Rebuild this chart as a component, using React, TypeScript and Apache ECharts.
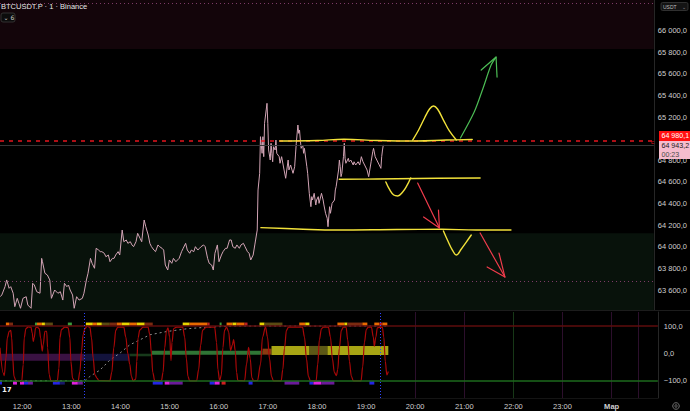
import React, { useEffect, useRef } from "react";
import * as echarts from "echarts";

// time axis: minutes relative to 12:00
const TIME_MIN = -27.2;
const TIME_MAX = 776.5;
const PRICE_MIN = 63415;
const PRICE_MAX = 66284;
const OSC_MIN = -164.3;
const OSC_MAX = 151.8;

const priceTicks = [63600, 63800, 64000, 64200, 64400, 64600, 64800, 65200, 65400, 65600, 65800, 66000];
const timeTicks = [0, 60, 120, 180, 240, 300, 360, 420, 480, 540, 600, 660, 720];
const oscTicks = [-100, 0, 100];

const lastPrice = 64943.2;
const alertPrice = 64980.1;
const dottedLevels = [66253, 63683];
const redZone = [65830, PRICE_MAX];
const greenZone = [PRICE_MIN, 64125];

const pricePath: [number, number][] = [
  [-27, 63538], [-25, 63554], [-21, 63631], [-19, 63693], [-16, 63616], [-14, 63631], [-11, 63570], [-9, 63446],
  [-6, 63523], [-4, 63477], [-2, 63431], [1, 63523], [5, 63538], [7, 63461], [11, 63431], [13, 63662],
  [15, 63646], [18, 63584], [22, 63570], [24, 63893], [25, 63862], [28, 63755], [31, 63739], [34, 63693],
  [36, 63523], [40, 63600], [44, 63570], [47, 63584], [50, 63507], [52, 63662], [55, 63631], [57, 63646],
  [59, 63600], [62, 63554], [64, 63431], [67, 63538], [70, 63507], [74, 63523], [76, 63570], [79, 63693],
  [81, 63755], [84, 63893], [86, 63847], [89, 63801], [91, 63986], [94, 63970], [96, 63955], [98, 63955],
  [101, 63940], [103, 63908], [106, 63924], [108, 63862], [111, 63893], [113, 63893], [115, 63924], [118, 63955],
  [120, 63924], [123, 64155], [125, 64047], [128, 64063], [130, 64032], [133, 64047], [135, 64017], [137, 64001],
  [140, 64047], [142, 64125], [145, 64078], [147, 64047], [150, 64248], [152, 64186], [155, 64109], [157, 64032],
  [159, 64001], [162, 63970], [164, 63955], [167, 64017], [169, 64001], [172, 63986], [174, 63970], [176, 63831],
  [179, 63785], [181, 63878], [184, 63847], [186, 63893], [189, 63862], [191, 63878], [193, 63893], [196, 63955],
  [198, 63986], [201, 64032], [203, 63970], [206, 63940], [208, 63970], [211, 63955], [213, 64001], [216, 63970],
  [218, 63986], [220, 64001], [223, 64017], [225, 64001], [228, 63893], [230, 63847], [233, 63831], [235, 63785],
  [237, 63940], [240, 64017], [242, 63862], [245, 63924], [247, 63955], [250, 63986], [252, 63986], [255, 64063],
  [257, 64063], [259, 64001], [262, 63986], [264, 64017], [267, 63986], [269, 64017], [272, 64032], [274, 64001],
  [277, 63955], [279, 63940], [281, 63878], [284, 63924], [286, 64017], [289, 64155], [290, 64526], [292, 64680],
  [293, 65019], [295, 64865], [296, 65019], [297, 64834], [298, 65143], [300, 65266], [301, 65328], [302, 65143],
  [303, 64896], [305, 64803], [306, 64958], [307, 64865], [308, 64787], [309, 64926], [311, 64896], [312, 64988],
  [313, 64865], [316, 64834], [317, 64773], [319, 64834], [322, 64711], [324, 64634], [327, 64803], [328, 64711],
  [330, 64757], [333, 64680], [335, 64741], [336, 64850], [337, 64958], [339, 65127], [340, 65050], [341, 65081],
  [342, 64988], [343, 64911], [345, 64942], [346, 64865], [347, 64911], [350, 64741], [351, 64680], [353, 64495],
  [355, 64371], [356, 64464], [357, 64433], [359, 64495], [361, 64387], [362, 64433], [364, 64464], [365, 64402],
  [368, 64495], [370, 64433], [371, 64387], [373, 64310], [375, 64264], [376, 64186], [378, 64371], [379, 64310],
  [381, 64402], [384, 64433], [385, 64526], [386, 64556], [389, 64711], [390, 64803], [391, 64741], [392, 64649],
  [393, 64680], [395, 64834], [396, 64958], [397, 64819], [398, 64773], [401, 64819], [402, 64787], [404, 64803],
  [407, 64757], [408, 64787], [410, 64757], [413, 64787], [415, 64757], [417, 64834], [419, 64787], [421, 64757],
  [424, 64711], [426, 64649], [429, 64787], [431, 64880], [432, 64911], [434, 64834], [436, 64803], [439, 64757],
  [441, 64726], [442, 64834], [443, 64896], [444, 64943],
];

// hand-drawn annotations (time, price)
const topLevelLine: [number, number][] = [[316.7, 64979], [363, 64984], [395.7, 64995], [436, 64984], [484.9, 64979], [521.5, 64988], [553.3, 64993]];
const topHump: [number, number][] = [[480.1, 64988], [487.4, 65081], [494.7, 65192], [500.8, 65275], [505.7, 65303], [510.6, 65275], [517.9, 65173], [525.2, 65072], [533.8, 64988]];
const midLevelLine: [number, number][] = [[389.9, 64625], [436, 64627], [484.9, 64632], [563, 64637]];
const midDip: [number, number][] = [[447.1, 64600], [452, 64526], [456.8, 64479], [461.7, 64470], [467.8, 64507], [472.8, 64563], [477.6, 64637]];
const lowLevelLine: [number, number][] = [[293.5, 64177], [338.4, 64165], [387.2, 64155], [460.4, 64160], [515.5, 64162], [558.2, 64155], [600.9, 64155]];
const lowDip: [number, number][] = [[517.9, 64146], [522.8, 64063], [528.9, 63970], [533.8, 63924], [539.9, 63980], [546, 64044], [552.1, 64109]];
const greenArrow: [number, number][] = [[538.8, 65007], [555.7, 65247], [566.7, 65470], [576.5, 65682], [582.6, 65756]];
const greenArrowHead: [number, number][] = [[564.3, 65636], [582.6, 65756], [583.8, 65571]];
const redArrow1: [number, number][] = [[486.2, 64590], [513, 64174]];
const redArrow1Head: [number, number][] = [[511.8, 64340], [513, 64174], [493.5, 64276]];
const redArrow2: [number, number][] = [[563, 64128], [593.5, 63720]];
const redArrow2Head: [number, number][] = [[586.2, 63942], [593.5, 63720], [571.6, 63813]];

// oscillator (time, value)
const oscillator: [number, number][] = [
  [-27.2, 20], [-23.2, -73], [-22, -82], [-19.9, -17], [-18.3, 57], [-15.9, 81], [-14.1, 84], [-12.9, 57],
  [-11.7, -17], [-10.1, -85], [-7.7, -101], [-0.7, -104], [1.2, -42], [2.4, 57], [4.5, 91], [7.3, 97],
  [10.6, 96], [12.2, 75], [13.4, 44], [14.6, 57], [16.3, 94], [18.3, 96], [20.7, 91], [22.4, 57],
  [24.4, 8], [25.6, 32], [27.7, 81], [29.8, 81], [31, 20], [32.9, -79], [35, -101], [42.7, -104],
  [44.8, -55], [46, 57], [48, 88], [52.1, 96], [56.1, 94], [58.2, 57], [59.4, -30], [61.5, -92],
  [64.3, -104], [68.3, -101], [70.4, -67], [72.4, 8], [74.4, 69], [76.5, 91], [79.3, 100], [82.6, 96],
  [84.6, 57], [86.6, -17], [88.7, -79], [91.5, -92], [93.5, -100], [107, -101], [109.4, -70], [111.8, 20],
  [114.3, 85], [116.7, 96], [124, 96], [126.5, 60], [128.9, 0], [131.3, -40], [133.4, -85], [135.4, -101],
  [138.7, -95], [139.9, -30], [141.5, 57], [143.5, 85], [147.6, 96], [153.7, 96], [155.7, 70], [157.8, 0],
  [159.4, -70], [161.8, -100], [170, -101], [172, -70], [174, 20], [176.1, 80], [178, 94], [180.1, 60],
  [181.7, -27], [182.9, 40], [185, 91], [188.7, 96], [196, 96], [198.4, 60], [200.5, -20], [202.4, -85],
  [204.5, -101], [213, -101], [215.5, -60], [217.9, 30], [220.4, 85], [224.9, 96], [231.3, 96], [235, 96],
  [237.4, 40], [239, -60], [241.1, -100], [243.2, -80], [245.1, 20], [247.2, 85], [249.6, 96], [252.1, 80],
  [254.5, 10], [256.6, 30], [258.2, 50], [260.2, 10], [261.8, -70], [263.4, -100], [271.6, -101], [274, -40],
  [276.5, 22], [278.5, -20], [280.5, -90], [282.6, -101], [287.4, -100], [291.1, -40], [293.5, 60], [297.2, 96],
  [299.6, 60], [302.1, -20], [304.5, -85], [306.9, -101], [316.3, -101], [318.3, -60], [320.4, 20], [322.8, 85],
  [325.3, 96], [342.3, 96], [344.8, 60], [347.2, -20], [349.6, -85], [352.1, -101], [359, -101], [361, -40],
  [363, 50], [365.5, 90], [367.9, 96], [374, 96], [376.5, 60], [378.9, -20], [381.3, -70], [383.8, -82],
  [385.4, -60], [387.4, 20], [389.9, 85], [392.3, 96], [395.6, 96], [397.6, 50], [399.7, -30], [402.1, -85],
  [404.5, -101], [413.9, -101], [415.9, -50], [418, 40], [420.4, 88], [422.8, 96], [426.5, 96], [428.9, 60],
  [430.1, 26], [432, 60], [433.8, 94], [439.9, 96], [441.7, 60], [443.5, -30], [445.4, -79], [447.2, -67],
];

const trendLine: [number, number][] = [
  [-27.2, -101], [76.5, -101], [82.6, -85], [94.8, -62], [107, -25], [119.1, 0], [131.3, 31], [143.5, 49],
  [155.7, 68], [176.5, 80], [200.8, 90], [225.2, 96], [256.9, 100], [446, 100],
];

// [start, end, low, high, kind]
const zeroBand: [number, number, number, number, string][] = [
  [-27.2, 75.4, -27, -1.5, "purple"], [75.4, 131.3, -27, -1.5, "navy"], [131.3, 158.2, -11, -1.5, "darkgreen"],
  [158.2, 293.5, -5, 9.6, "green"], [293.5, 304.5, -5, 17, "brown"], [304.5, 351, -6, 27, "yellow"],
  [351, 372.8, -6, 27, "olive"], [372.8, 447.2, -6, 27, "yellow"],
];
const topBlocks: [number, number, string][] = [
  [-20, -16.2, "orange"], [-16.2, -11.3, "brown"], [15.5, 18, "green"], [18, 24, "orange"], [24, 27.7, "yellow"],
  [27.7, 37.4, "olive"], [55.7, 60.6, "green"], [77.7, 86.2, "yellow"], [86.2, 91.1, "orange"], [91.1, 97.2, "yellow"],
  [97.2, 107, "olive"], [107, 115.5, "brown"], [115.5, 121.6, "orange"], [121.6, 131.3, "yellow"], [131.3, 139.9, "orange"],
  [139.9, 149.6, "yellow"], [149.6, 159.4, "brown"], [196, 204.5, "yellow"], [204.5, 226.4, "orange"], [226.4, 228.9, "red"],
  [241.1, 243.5, "green"], [249.6, 256.9, "orange"], [256.9, 261.8, "yellow"], [261.8, 271.6, "orange"], [271.6, 275.2, "red"],
  [289.9, 296, "yellow"], [296, 317.9, "olive"], [338.4, 345.7, "orange"], [345.7, 350.8, "yellow"], [385, 393.5, "orange"],
  [393.5, 397.2, "yellow"], [397.2, 415.5, "brown"], [415.5, 421.6, "orange"], [430.1, 436.2, "orange"], [436.2, 439.9, "red"],
  [439.9, 446, "orange"],
];
const bottomBlocks: [number, number, string][] = [
  [-27.2, -24.8, "blue"], [-11.3, -6.5, "magenta"], [-2.8, 2.1, "magenta"], [2.1, 7, "blue"], [7, 13, "purple"],
  [37.4, 46, "blue"], [46, 52, "navy"], [60.6, 67.9, "magenta"], [67.9, 74, "purple"], [159.4, 171.6, "blue"],
  [174, 180.1, "magenta"], [180.1, 196, "purple"], [228.9, 235, "blue"], [235, 241.1, "magenta"], [243.5, 248.4, "red"],
  [276.5, 281.4, "blue"], [320.4, 338.4, "purple"], [350.8, 355.7, "blue"], [355.7, 365.5, "magenta"], [365.5, 381.3, "purple"],
  [424.1, 430.1, "blue"],
];
const sessionLines = [480, 540, 660, 720, 753];
const dayLine = 600;
const cursorLines = [75.4, 437.4];

const bandColors: Record<string, string> = {
  purple: "#3a1242", navy: "#13133c", darkgreen: "#173a1b", green: "#2f7535", brown: "#8a3a10",
  yellow: "#a8a514", olive: "#5c5816",
};
const topColors: Record<string, string> = {
  orange: "#e86a00", brown: "#7a2a10", green: "#3c9c3c", yellow: "#e6d400", olive: "#5a4a12", red: "#c02020",
};
const bottomColors: Record<string, string> = {
  blue: "#2424e6", magenta: "#e020e0", purple: "#6a1a9a", navy: "#18186a", red: "#d02020",
};

const fmtPrice = (v: number) => {
  const [i, d] = v.toFixed(1).split(".");
  const neg = i.startsWith("-");
  const body = (neg ? i.slice(1) : i).replace(/\B(?=(\d{3})+(?!\d))/g, " ");
  return (neg ? "\u2212" : "") + body + "," + d;
};

const FONT = "Liberation Sans";
const LABEL = "#cfcfcf";

function stroke(data: [number, number][], color: string, width: number, smooth: boolean | number = 0.4) {
  return {
    type: "line", xAxisIndex: 0, yAxisIndex: 0, data, smooth, showSymbol: false, symbol: "none", z: 6,
    lineStyle: { color, width, cap: "round", join: "round" }, silent: true,
  };
}

export default function App() {
  const ref = useRef<HTMLDivElement>(null);
  useEffect(() => {
    if (!ref.current) return;
    const chart = echarts.init(ref.current, null, { renderer: "svg" });
    const option: any = {
      animation: false,
      backgroundColor: "#000000",
      textStyle: { fontFamily: FONT },
      grid: [
        { left: 0, top: 0, width: 659, height: 310 },
        { left: 0, top: 312, width: 659, height: 86 },
      ],
      xAxis: [
        { type: "value", gridIndex: 0, min: TIME_MIN, max: TIME_MAX, show: false, axisLine: { onZero: false }, splitLine: { show: false } },
        {
          type: "value", gridIndex: 1, min: TIME_MIN, max: TIME_MAX,
          axisLine: { show: true, onZero: false, lineStyle: { color: "#141414" } }, axisTick: { show: false }, splitLine: { show: false },
          axisLabel: {
            customValues: timeTicks, color: LABEL, fontSize: 7.5, fontFamily: FONT, margin: 4,
            formatter: (v: number) => (v === 720 ? "{b|Мар}" : `${String(12 + Math.round(v / 60)).padStart(2, "0")}:00`),
            rich: { b: { fontWeight: "bold", fontSize: 7.5, color: LABEL, fontFamily: FONT } },
          },
        },
      ],
      yAxis: [
        {
          type: "value", gridIndex: 0, position: "right", min: PRICE_MIN, max: PRICE_MAX,
          axisLine: { show: true, onZero: false, lineStyle: { color: "#262626" } }, axisTick: { show: false }, splitLine: { show: false },
          axisLabel: { customValues: priceTicks, color: LABEL, fontSize: 7.5, fontFamily: FONT, margin: 4, formatter: fmtPrice },
        },
        {
          type: "value", gridIndex: 1, position: "right", min: OSC_MIN, max: OSC_MAX,
          axisLine: { show: true, onZero: false, lineStyle: { color: "#262626" } }, axisTick: { show: false }, splitLine: { show: false },
          axisLabel: { customValues: oscTicks, color: LABEL, fontSize: 7.5, fontFamily: FONT, margin: 6, formatter: fmtPrice },
        },
      ],
      series: [
        {
          type: "line", xAxisIndex: 0, yAxisIndex: 0, data: [[TIME_MIN, PRICE_MIN]], showSymbol: false, z: 1, silent: true,
          lineStyle: { width: 0 },
          markArea: {
            silent: true, label: { show: false },
            data: [
              [{ yAxis: redZone[0], itemStyle: { color: "#13050a" } }, { yAxis: redZone[1] }],
              [{ yAxis: greenZone[0], itemStyle: { color: "#08120b" } }, { yAxis: greenZone[1] }],
            ],
          },
          markLine: {
            silent: true, symbol: ["none", "none"], label: { show: false },
            data: [
              { yAxis: lastPrice, lineStyle: { color: "#363636", width: 1, type: "solid" } },
              ...dottedLevels.map((v) => ({ yAxis: v, lineStyle: { color: "#7d3b66", width: 1, type: [1, 3] } })),
            ],
          },
        },
        {
          type: "line", xAxisIndex: 0, yAxisIndex: 0, data: pricePath, showSymbol: false, symbol: "none", z: 3, silent: true,
          lineStyle: { color: "#d2a4b5", width: 1 },
          markLine: {
            silent: true, symbol: ["none", "none"], label: { show: false },
            data: [{ yAxis: alertPrice, lineStyle: { color: "#e3141e", width: 1.5, type: [4, 5] } }],
          },
        },
        stroke(topLevelLine, "#f2e23a", 1.4),
        stroke(topHump, "#f2e23a", 1.4),
        stroke(midLevelLine, "#f2e23a", 1.4),
        stroke(midDip, "#f2e23a", 1.4),
        stroke(lowLevelLine, "#f2e23a", 1.4),
        stroke(lowDip, "#f2e23a", 1.4),
        stroke(greenArrow, "#4cbd55", 1.2, 0.3),
        stroke(greenArrowHead, "#4cbd55", 1.2, false),
        stroke(redArrow1, "#f03c4c", 1.2, false),
        stroke(redArrow1Head, "#f03c4c", 1.2, false),
        stroke(redArrow2, "#f03c4c", 1.2, false),
        stroke(redArrow2Head, "#f03c4c", 1.2, false),
        {
          type: "line", xAxisIndex: 1, yAxisIndex: 1, data: [[TIME_MIN, OSC_MIN]], showSymbol: false, z: 1, silent: true,
          lineStyle: { width: 0 },
          markArea: {
            silent: true, label: { show: false },
            data: [
              ...zeroBand.map(([s, e, lo, hi, k]) => [{ xAxis: s, yAxis: lo, itemStyle: { color: bandColors[k] } }, { xAxis: e, yAxis: hi }]),
              ...topBlocks.map(([s, e, k]) => [{ xAxis: s, yAxis: 101, itemStyle: { color: topColors[k] } }, { xAxis: e, yAxis: 113 }]),
              ...bottomBlocks.map(([s, e, k]) => [{ xAxis: s, yAxis: -101, itemStyle: { color: bottomColors[k] } }, { xAxis: e, yAxis: -115 }]),
            ],
          },
          markLine: {
            silent: true, symbol: ["none", "none"], label: { show: false },
            data: [
              ...sessionLines.map((v) => ({ xAxis: v, lineStyle: { color: "#2c0f2c", width: 1, type: "solid" } })),
              { xAxis: dayLine, lineStyle: { color: "#173817", width: 1, type: "solid" } },
              { yAxis: 100, lineStyle: { color: "#5e0c0c", width: 1.5, type: "solid" } },
              { yAxis: -100, lineStyle: { color: "#1d6a1d", width: 1.5, type: "solid" } },
              ...cursorLines.map((v) => ({ xAxis: v, lineStyle: { color: "#2f45ff", width: 1, type: [1, 2] } })),
            ],
          },
        },
        {
          type: "line", xAxisIndex: 1, yAxisIndex: 1, data: trendLine, showSymbol: false, symbol: "none", z: 3, silent: true,
          lineStyle: { color: "#8f8f8f", width: 1, type: [2, 3] },
        },
        {
          type: "line", xAxisIndex: 1, yAxisIndex: 1, data: oscillator, showSymbol: false, symbol: "none", z: 4, silent: true,
          smooth: 0.35, smoothMonotone: "x",
          lineStyle: { color: "#a80808", width: 1.2 },
        },
      ],
      graphic: [
        { type: "line", z: 50, shape: { x1: 0, y1: 310.5, x2: 690, y2: 310.5 }, style: { stroke: "#1c1c1c", lineWidth: 1 } },
        { type: "text", z: 60, x: 1, y: 6, style: { text: "BTCUSDT.P · 1 · Binance", fill: "#e6e6e6", fontSize: 7.5, fontFamily: FONT, verticalAlign: "middle" } },
        { type: "rect", z: 60, shape: { x: 1, y: 13, width: 14, height: 9, r: 2 }, style: { fill: "#0c0c0c", stroke: "#3a3a3a", lineWidth: 0.8 } },
        { type: "text", z: 61, x: 3.5, y: 17.5, style: { text: "⌄ 6", fill: "#cfcfcf", fontSize: 6, fontFamily: "DejaVu Sans", verticalAlign: "middle" } },
        { type: "rect", z: 60, shape: { x: 661, y: 2.5, width: 27, height: 8, r: 1.5 }, style: { fill: "#141414", stroke: "#3a3a3a", lineWidth: 0.8 } },
        { type: "text", z: 61, x: 663, y: 6.5, style: { text: "USDT", fill: "#bdbdbd", fontSize: 5, fontFamily: FONT, verticalAlign: "middle" } },
        { type: "text", z: 61, x: 682, y: 6.5, style: { text: "⌄", fill: "#9a9a9a", fontSize: 5, fontFamily: "DejaVu Sans", verticalAlign: "middle" } },
        { type: "text", z: 60, x: 651, y: 141.5, style: { text: "c", fill: "#e3141e", fontSize: 6, fontFamily: FONT, verticalAlign: "middle" } },
        { type: "rect", z: 60, shape: { x: 659, y: 131, width: 31, height: 10 }, style: { fill: "#ff1010" } },
        { type: "text", z: 61, x: 661.5, y: 136.3, style: { text: fmtPrice(alertPrice), fill: "#ffffff", fontSize: 7.1, fontFamily: FONT, verticalAlign: "middle" } },
        { type: "rect", z: 60, shape: { x: 659, y: 141, width: 31, height: 18 }, style: { fill: "#f5bccd" } },
        { type: "text", z: 61, x: 661.5, y: 145.8, style: { text: fmtPrice(lastPrice), fill: "#1a1a1a", fontSize: 7.1, fontFamily: FONT, verticalAlign: "middle" } },
        { type: "text", z: 61, x: 661.5, y: 154.5, style: { text: "00:23", fill: "#4a4a4a", fontSize: 7.1, fontFamily: FONT, verticalAlign: "middle" } },
        { type: "text", z: 60, x: 2, y: 389.5, style: { text: "17", fill: "#f0f0f0", fontSize: 7, fontWeight: "bold", fontFamily: "DejaVu Sans", verticalAlign: "middle" } },
        { type: "circle", z: 60, shape: { cx: 676, cy: 406, r: 3.3 }, style: { fill: "none", stroke: "#8a8a8a", lineWidth: 0.8 } },
        { type: "circle", z: 60, shape: { cx: 676, cy: 406, r: 1.2 }, style: { fill: "none", stroke: "#8a8a8a", lineWidth: 0.8 } },
      ],
    };
    chart.setOption(option);
    return () => chart.dispose();
  }, []);
  return <div ref={ref} style={{ position: "fixed", left: 0, top: 0, width: 690, height: 411 }} />;
}
